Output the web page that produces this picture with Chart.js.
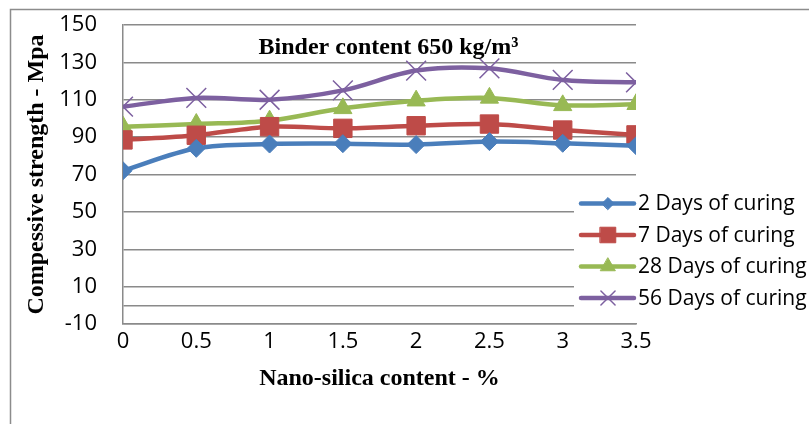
<!DOCTYPE html>
<html>
<head>
<meta charset="utf-8">
<script src="https://cdn.jsdelivr.net/npm/chart.js@4/dist/chart.umd.min.js"></script>
<style>
  html, body { margin: 0; padding: 0; background: #fff; }
  canvas { display: block; }
</style>
</head>
<body>
<canvas id="strengthChart" width="809" height="424"></canvas>
<script>
const nanoSilica = [0, 0.5, 1, 1.5, 2, 2.5, 3, 3.5];
const days2 = [72, 84, 86.3, 86.5, 86, 87.6, 86.7, 85.4];
const days7 = [88.5, 91, 95.6, 94.7, 96.1, 97, 93.8, 91.2];
const days28 = [95.6, 97, 98.8, 105.4, 109.5, 111, 107, 107.6];
const days56 = [106.3, 111, 110, 115, 125.6, 126.8, 120.6, 119.3];
const yTicks = [-10, 10, 30, 50, 70, 90, 110, 130, 150];
const xTicks = [0, 0.5, 1, 1.5, 2, 2.5, 3, 3.5];
const seriesLabels = ['2 Days of curing', '7 Days of curing', '28 Days of curing', '56 Days of curing'];
const chartTitle = 'Binder content 650 kg/m\u00B3';

const tickFont = { family: 'Open Sans', size: 22 };
const titleFont = { family: 'Liberation Serif', size: 24, weight: 'bold' };
const gridColor = '#8a8a8a';

const styles = [
    { color: '#4A7EBB', pointStyle: 'rectRot', radius: 9, legendRadius: 6, markerBorder: 1 },
    { color: '#BE4B48', pointStyle: 'rect', radius: 13, legendRadius: 11, markerBorder: 1 },
    { color: '#98B954', pointStyle: 'triangle', radius: 10.5, legendRadius: 8.5, markerBorder: 1 },
    { color: '#7D60A0', pointStyle: 'crossRot', radius: 14, legendRadius: 10, markerBorder: 1.5 },
];

function toPoints(values) {
    return values.map((v, i) => ({ x: nanoSilica[i], y: v }));
}

const seriesValues = [days2, days7, days28, days56];

// background, outer frame and the title inside the plot
const framePlugin = {
    id: 'frame',
    beforeDraw(chart) {
        const ctx = chart.ctx;
        ctx.save();
        ctx.fillStyle = '#fff';
        ctx.fillRect(0, 0, chart.width, chart.height);
        ctx.strokeStyle = '#8c8c8c';
        ctx.lineWidth = 1.5;
        ctx.beginPath();
        ctx.moveTo(10.5, chart.height);
        ctx.lineTo(10.5, 9.5);
        ctx.lineTo(chart.width, 9.5);
        ctx.stroke();
        ctx.restore();
    },
    afterDatasetsDraw(chart) {
        const ctx = chart.ctx;
        const area = chart.chartArea;
        ctx.save();
        ctx.font = 'bold 24px "Liberation Serif"';
        ctx.fillStyle = '#000';
        ctx.textAlign = 'center';
        ctx.textBaseline = 'middle';
        ctx.fillText(chartTitle, (area.left + area.right) / 2 + 9, area.top + 23);
        ctx.restore();
    }
};

// legend box sitting over the lower right of the plot
const legendPlugin = {
    id: 'sideLegend',
    afterDraw(chart) {
        const ctx = chart.ctx;
        ctx.save();
        ctx.fillStyle = '#fff';
        ctx.fillRect(574, 190, 235, 122);
        chart.data.datasets.forEach((ds, i) => {
            const y = 203.5 + i * 31.5;
            const st = styles[i];
            ctx.strokeStyle = st.color;
            ctx.lineWidth = 4.5;
            ctx.lineCap = 'round';
            ctx.beginPath();
            ctx.moveTo(581, y);
            ctx.lineTo(634, y);
            ctx.stroke();
            ctx.fillStyle = st.color;
            ctx.strokeStyle = st.color;
            ctx.lineWidth = st.markerBorder;
            Chart.helpers.drawPoint(ctx, { pointStyle: st.pointStyle, radius: st.legendRadius, rotation: 0, borderWidth: st.markerBorder }, 608, y);
            ctx.fillStyle = '#000';
            ctx.font = '21px "Open Sans"';
            ctx.textAlign = 'left';
            ctx.textBaseline = 'middle';
            ctx.fillText(ds.label, 638, y + 1);
        });
        ctx.restore();
    }
};

const datasets = seriesValues.map((vals, i) => ({
    label: seriesLabels[i],
    data: toPoints(vals),
    borderColor: styles[i].color,
    backgroundColor: styles[i].color,
    borderWidth: 4.5,
    tension: 0.33,
    pointStyle: styles[i].pointStyle,
    pointRadius: styles[i].radius,
    pointBorderWidth: styles[i].markerBorder,
    pointBorderColor: styles[i].color,
    pointBackgroundColor: styles[i].color,
}));

new Chart(document.getElementById('strengthChart'), {
    type: 'line',
    data: { datasets: datasets },
    options: {
        responsive: false,
        animation: false,
        devicePixelRatio: 1,
        layout: { padding: { top: 25, right: 173, left: 0, bottom: 0 } },
        plugins: {
            legend: { display: false },
            tooltip: { enabled: false },
        },
        scales: {
            x: {
                type: 'linear',
                min: 0,
                max: 3.5,
                afterBuildTicks: (scale) => { scale.ticks = xTicks.map(v => ({ value: v })); },
                afterFit: (scale) => { scale.height = 100; },
                ticks: { font: tickFont, color: '#000', padding: -3, maxRotation: 0, callback: (v) => String(v) },
                grid: { display: false },
                border: { display: true, color: gridColor, width: 1.5 },
                title: {
                    display: true,
                    text: 'Nano-silica content - %',
                    font: titleFont,
                    color: '#000',
                    padding: { top: 0, bottom: 31 },
                },
            },
            y: {
                min: -10,
                max: 150,
                afterBuildTicks: (scale) => {
                    scale.ticks = yTicks.concat([0]).sort((a, b) => a - b).map(v => ({ value: v }));
                },
                afterFit: (scale) => { scale.width = 123; },
                ticks: {
                    font: tickFont,
                    color: '#000',
                    padding: 0,
                    callback: (v) => (yTicks.includes(v) ? String(v) : ''),
                },
                grid: { color: gridColor, lineWidth: 1.5, drawTicks: true, tickLength: 26, tickColor: 'rgba(0,0,0,0)' },
                border: { display: true, color: gridColor, width: 1.5 },
                title: {
                    display: true,
                    text: 'Compessive strength - Mpa',
                    font: titleFont,
                    color: '#000',
                    padding: { top: 22, bottom: 0 },
                },
            },
        },
    },
    plugins: [framePlugin, legendPlugin],
});
</script>
</body>
</html>
